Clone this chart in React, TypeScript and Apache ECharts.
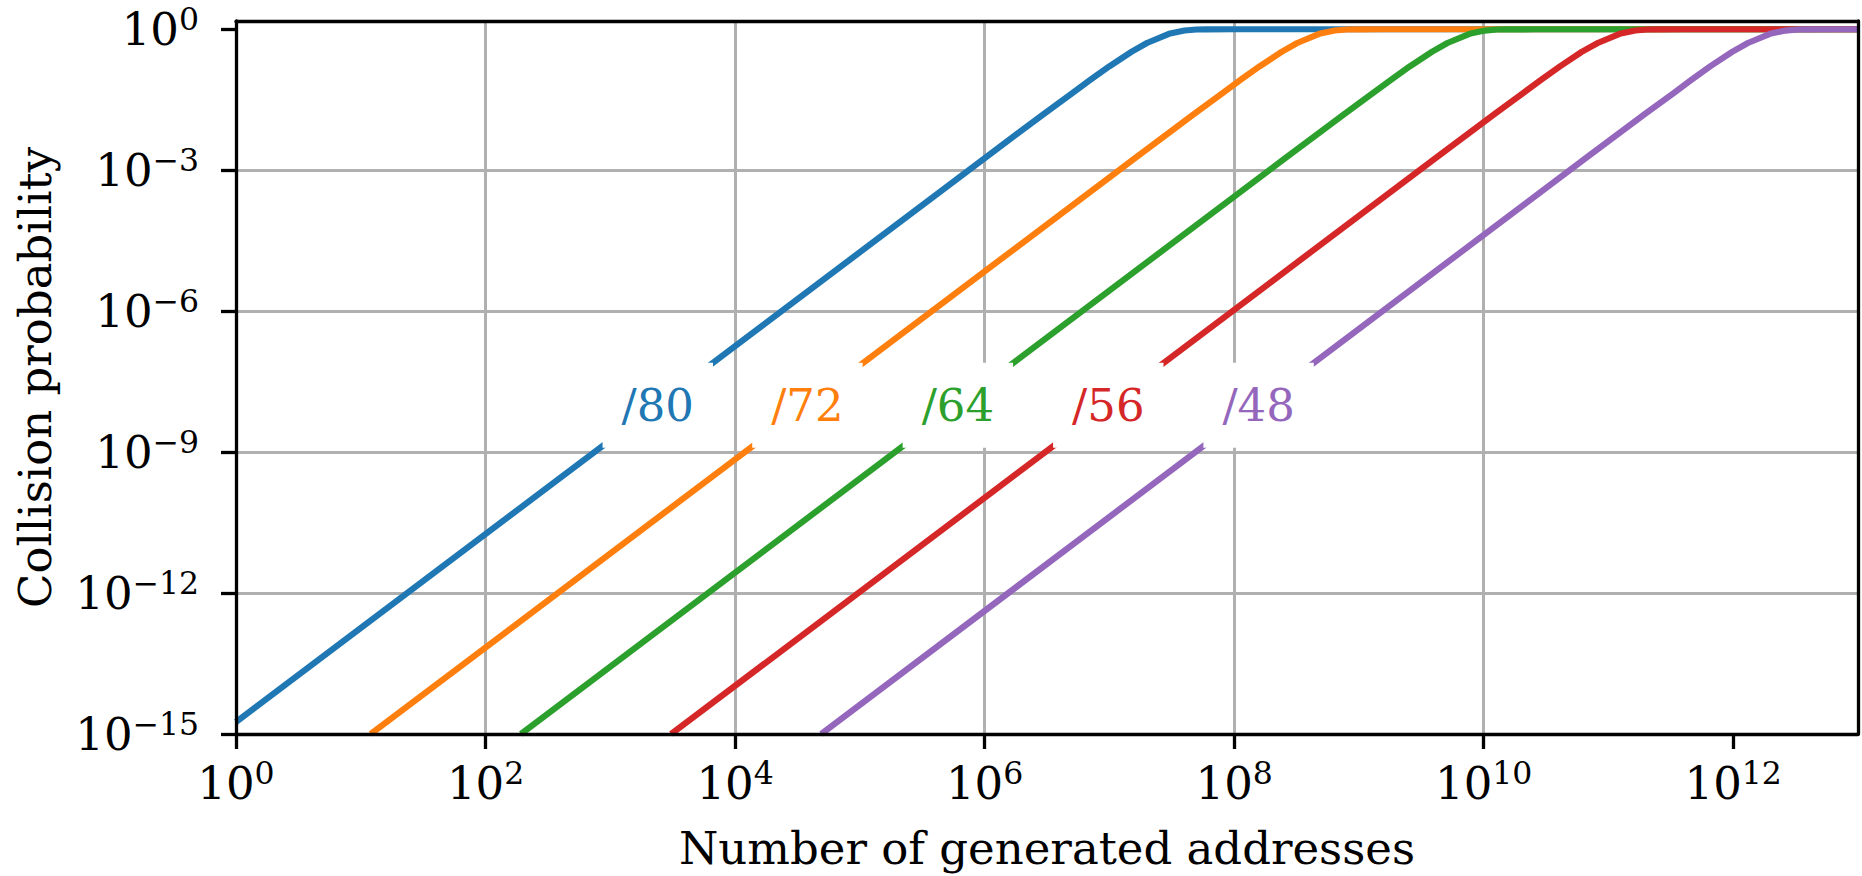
import React, { useEffect, useRef } from 'react';
import * as echarts from 'echarts';

// Prefix labels and their colours
const prefixes = ['/80', '/72', '/64', '/56', '/48'];
const seriesColors = ['#1f77b4', '#ff7f0e', '#2ca02c', '#d62728', '#9467bd'];

// Values: number of generated addresses -> collision probability
const addr80 = [1, 1e6, 3e6, 5e6, 7e6, 1e7, 1.5e7, 2e7, 3e7, 4e7, 5e7, 6e7, 1e8, 1e13];
const prob80 = [1.8e-15, 1.8e-3, 0.016, 0.043, 0.083, 0.163, 0.33, 0.51, 0.8, 0.94, 0.988, 0.998, 1, 1];

const addr72 = [12, 1.6e7, 4.8e7, 8e7, 1.12e8, 1.6e8, 2.4e8, 3.2e8, 4.8e8, 6.4e8, 8e8, 9.6e8, 1.6e9, 1e13];
const prob72 = [1e-15, 1.8e-3, 0.016, 0.043, 0.083, 0.163, 0.33, 0.51, 0.8, 0.94, 0.988, 0.998, 1, 1];

const addr64 = [192, 2.56e8, 7.7e8, 1.28e9, 1.8e9, 2.56e9, 3.84e9, 5.12e9, 7.7e9, 1.02e10, 1.28e10, 1.54e10, 2.56e10, 1e13];
const prob64 = [1e-15, 1.8e-3, 0.016, 0.043, 0.083, 0.163, 0.33, 0.51, 0.8, 0.94, 0.988, 0.998, 1, 1];

const addr56 = [3070, 4.1e9, 1.23e10, 2.05e10, 2.87e10, 4.1e10, 6.1e10, 8.2e10, 1.23e11, 1.64e11, 2.05e11, 2.46e11, 4.1e11, 1e13];
const prob56 = [1e-15, 1.8e-3, 0.016, 0.043, 0.083, 0.163, 0.33, 0.51, 0.8, 0.94, 0.988, 0.998, 1, 1];

const addr48 = [4.9e4, 6.55e10, 1.97e11, 3.3e11, 4.6e11, 6.55e11, 9.8e11, 1.31e12, 1.97e12, 2.62e12, 3.3e12, 3.93e12, 6.55e12, 1e13];
const prob48 = [1e-15, 1.8e-3, 0.016, 0.043, 0.083, 0.163, 0.33, 0.51, 0.8, 0.94, 0.988, 0.998, 1, 1];

const seriesAddr = [addr80, addr72, addr64, addr56, addr48];
const seriesProb = [prob80, prob72, prob64, prob56, prob48];

// Inline label positions (on each curve)
const labelAddr = [2.4e3, 3.8e4, 6.1e5, 9.8e6, 1.57e8];
const labelProb = [1e-8, 1e-8, 1e-8, 1e-8, 1e-8];

// Tick values
const xTicks = [1, 1e2, 1e4, 1e6, 1e8, 1e10, 1e12];
const yTicks = [1e-15, 1e-12, 1e-9, 1e-6, 1e-3, 1];

const FONT = 'DejaVu Serif';

const isTick = (ticks: number[], v: number) =>
  ticks.some((t) => Math.abs(Math.log10(t) - Math.log10(v)) < 1e-6);

const makeFmt = (ticks: number[]) => (v: number) => {
  if (!isTick(ticks, v)) return '';
  const e = Math.round(Math.log10(v));
  const s = (e < 0 ? '\u2212' : '') + Math.abs(e);
  return `{b|10}{s|${s}}`;
};

const rich = {
  b: { fontSize: 45, fontFamily: FONT, color: '#000', lineHeight: 52 },
  s: { fontSize: 31.5, fontFamily: FONT, color: '#000', lineHeight: 32, verticalAlign: 'top' },
};

export default function App() {
  const ref = useRef<HTMLDivElement>(null);

  useEffect(() => {
    if (!ref.current) return;
    const chart = echarts.init(ref.current, undefined, { renderer: 'svg' });

    const lineSeries = seriesAddr.map((addr, i) => ({
      type: 'line',
      name: prefixes[i],
      xAxisIndex: 0,
      yAxisIndex: 0,
      data: addr.map((a, j) => [a, seriesProb[i][j]]),
      showSymbol: false,
      symbol: 'none',
      smooth: false,
      clip: true,
      z: 2,
      lineStyle: { color: seriesColors[i], width: 6.2, join: 'round' },
      itemStyle: { color: seriesColors[i] },
      silent: true,
    }));

    const labelSeries = {
      type: 'scatter',
      xAxisIndex: 0,
      yAxisIndex: 0,
      z: 10,
      silent: true,
      symbol: 'circle',
      symbolSize: 1,
      itemStyle: { color: '#fff', opacity: 1 },
      data: labelAddr.map((a, i) => ({
        value: [a, labelProb[i]],
        name: prefixes[i],
        label: { color: seriesColors[i] },
      })),
      label: {
        show: true,
        position: 'inside',
        formatter: '{b}',
        fontSize: 45,
        lineHeight: 45,
        fontFamily: FONT,
        opacity: 1,
        backgroundColor: '#fff',
        padding: [20, 19],
      },
    };

    const spineAxis = (position: string) => ({
      type: 'value',
      position,
      min: 0,
      max: 1,
      z: 3,
      axisLine: { show: true, onZero: false, lineStyle: { color: '#000', width: 3.3 } },
      axisTick: { show: false },
      axisLabel: { show: false },
      splitLine: { show: false },
    });

    chart.setOption({
      animation: false,
      backgroundColor: '#fff',
      grid: { left: 236, right: 4, top: 21, bottom: 138, show: false },
      xAxis: [
        {
          type: 'log',
          logBase: 10,
          min: 1,
          max: 1e13,
          interval: 2,
          position: 'bottom',
          axisLine: { show: false },
          axisTick: {
            show: true,
            length: 15,
            customValues: xTicks,
            lineStyle: { color: '#000', width: 3.3 },
          },
          minorTick: { show: false },
          axisLabel: {
            customValues: xTicks,
            formatter: makeFmt(xTicks),
            margin: 23,
            rich,
          },
          splitLine: {
            show: true,
            showMinLine: false,
            showMaxLine: false,
            lineStyle: { color: '#b0b0b0', width: 3 },
          },
          name: 'Number of generated addresses',
          nameLocation: 'middle',
          nameGap: 92,
          nameTextStyle: { fontSize: 45, fontFamily: FONT, color: '#000' },
        },
        spineAxis('top'),
        spineAxis('bottom'),
      ],
      yAxis: [
        {
          type: 'log',
          logBase: 10,
          min: 1e-15,
          max: 1.5,
          interval: 3,
          position: 'left',
          axisLine: { show: false },
          axisTick: {
            show: true,
            length: 15,
            customValues: yTicks,
            lineStyle: { color: '#000', width: 3.3 },
          },
          minorTick: { show: false },
          axisLabel: {
            customValues: yTicks,
            formatter: makeFmt(yTicks),
            margin: 37,
            rich,
          },
          splitLine: {
            show: true,
            showMinLine: false,
            showMaxLine: false,
            lineStyle: { color: '#b0b0b0', width: 3 },
          },
          name: 'Collision probability',
          nameLocation: 'middle',
          nameGap: 178,
          nameTextStyle: { fontSize: 45, fontFamily: FONT, color: '#000' },
        },
        spineAxis('right'),
        spineAxis('left'),
      ],
      series: [...lineSeries, labelSeries],
    });

    return () => chart.dispose();
  }, []);

  return (
    <div
      ref={ref}
      style={{ position: 'fixed', left: 0, top: 0, width: 1862, height: 876, background: '#fff' }}
    />
  );
}
